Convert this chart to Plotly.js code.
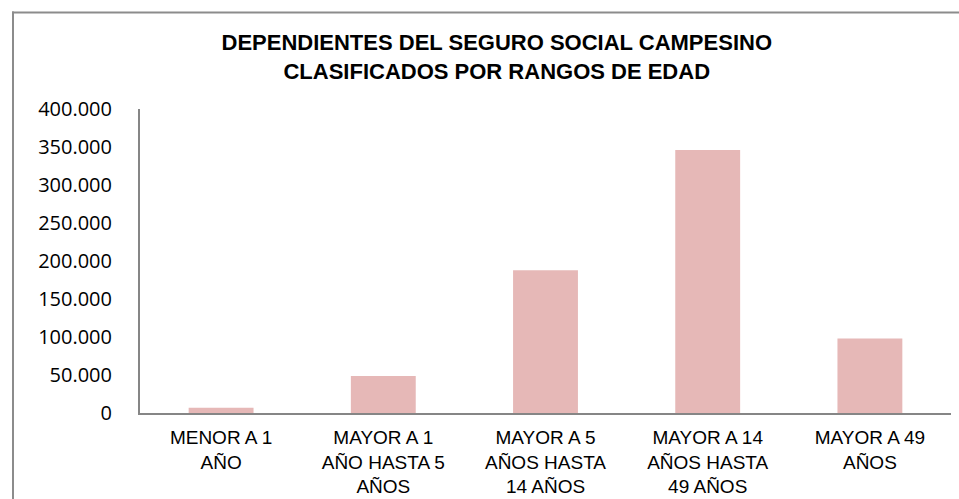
<!DOCTYPE html>
<html>
<head>
<meta charset="utf-8">
<script src="https://cdn.plot.ly/plotly-3.0.1.min.js"></script>
<style>
  html, body { margin: 0; padding: 0; background: #fff; overflow: hidden; }
  #chart { width: 959px; height: 499px; }
</style>
</head>
<body>
<div id="chart"></div>
<script>
const categories = [
  "MENOR A 1<br>AÑO",
  "MAYOR A 1<br>AÑO HASTA 5<br>AÑOS",
  "MAYOR A 5<br>AÑOS HASTA<br>14 AÑOS",
  "MAYOR A 14<br>AÑOS HASTA<br>49 AÑOS",
  "MAYOR A 49<br>AÑOS"
];
const values = [7000, 48700, 187700, 346000, 97900];
const yTickVals = [0, 50000, 100000, 150000, 200000, 250000, 300000, 350000, 400000];

const W = 959, H = 499;
const M = { l: 140, r: 8, t: 109, b: 86 };
const pw = W - M.l - M.r, ph = H - M.t - M.b;
const px2x = p => (p - M.l) / pw;
const px2y = p => (H - M.b - p) / ph;

const trace = {
  type: 'bar',
  x: categories,
  y: values,
  marker: { color: '#E6B8B7', line: { width: 0 } },
  hoverinfo: 'none'
};

const layout = {
  width: W,
  height: H,
  margin: M,
  paper_bgcolor: '#ffffff',
  plot_bgcolor: '#ffffff',
  separators: ',.',
  showlegend: false,
  bargap: 0.6,
  title: {
    text: 'DEPENDIENTES DEL SEGURO SOCIAL CAMPESINO<br>CLASIFICADOS POR RANGOS DE EDAD',
    font: { family: 'Liberation Sans, Arial, sans-serif', size: 22, color: '#000', weight: 'bold' },
    xref: 'container', x: 0.518, xanchor: 'center',
    yref: 'container', y: 1 - 50 / H, yanchor: 'top'
  },
  shapes: [
    { type: 'rect', xref: 'paper', yref: 'paper', layer: 'above',
      x0: px2x(12), x1: px2x(W + 5), y0: px2y(13.5), y1: px2y(11.5),
      fillcolor: '#8c8c8c', line: { width: 0 } },
    { type: 'rect', xref: 'paper', yref: 'paper', layer: 'above',
      x0: px2x(12), x1: px2x(14), y0: px2y(H + 5), y1: px2y(11.5),
      fillcolor: '#8c8c8c', line: { width: 0 } }
  ],
  xaxis: {
    type: 'category',
    showline: true, linecolor: '#868686', linewidth: 2,
    showgrid: false, zeroline: false,
    ticks: '',
    tickangle: 0,
    ticklabelstandoff: 6,
    tickfont: { family: 'Liberation Sans, Arial, sans-serif', size: 19, color: '#000' }
  },
  yaxis: {
    range: [0, 400000],
    tickvals: yTickVals,
    tickformat: ',d',
    showline: true, linecolor: '#868686', linewidth: 2,
    showgrid: false, zeroline: false,
    ticks: '',
    ticklabelstandoff: 22,
    tickfont: { family: 'Open Sans, sans-serif', size: 20, color: '#000' }
  }
};

Plotly.newPlot('chart', [trace], layout, { displayModeBar: false, staticPlot: true });
</script>
</body>
</html>
